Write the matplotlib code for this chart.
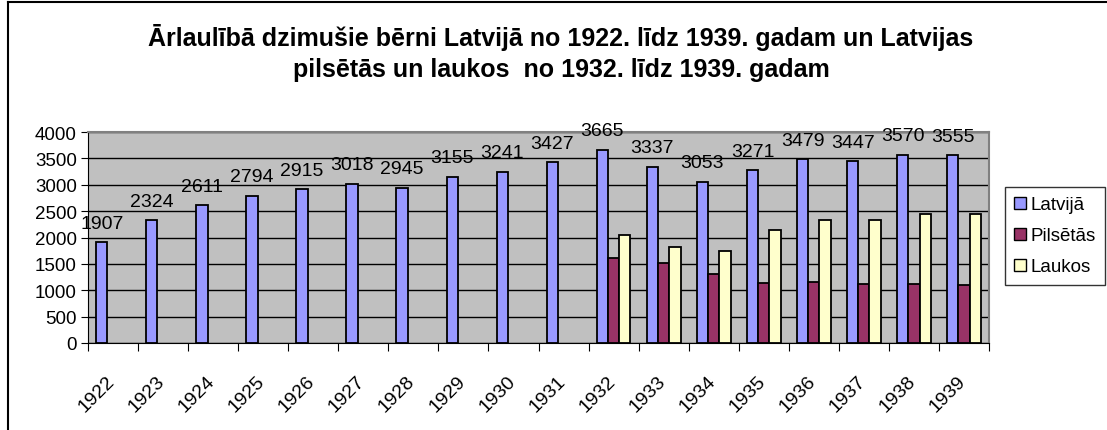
import matplotlib
matplotlib.use("Agg")
import matplotlib.pyplot as plt
from matplotlib.lines import Line2D
from matplotlib.patches import Patch
import numpy as np

plt.rcParams['font.family'] = ['Liberation Sans', 'DejaVu Sans']

years = ['1922', '1923', '1924', '1925', '1926', '1927', '1928', '1929', '1930',
         '1931', '1932', '1933', '1934', '1935', '1936', '1937', '1938', '1939']
latvija = [1907, 2324, 2611, 2794, 2915, 3018, 2945, 3155, 3241, 3427,
           3665, 3337, 3053, 3271, 3479, 3447, 3570, 3555]
pilsetas = [None] * 10 + [1610, 1515, 1315, 1130, 1150, 1110, 1127, 1105]
laukos = [None] * 10 + [2055, 1822, 1738, 2141, 2329, 2337, 2443, 2450]

series_names = ['Latvijā', 'Pilsētās', 'Laukos']
colors = ['#9999FF', '#993366', '#FFFFCC']
title = 'Ārlaulībā dzimušie bērni Latvijā no 1922. līdz 1939. gadam un Latvijas\npilsētās un laukos  no 1932. līdz 1939. gadam'

W, H = 1107, 431
fig = plt.figure(figsize=(W / 100, H / 100), dpi=100)
ax = fig.add_axes([88 / W, 1 - 344 / H, (989 - 88) / W, (344 - 133) / H])
ax.set_facecolor('#C0C0C0')

x = np.arange(len(years))
bw = 0.225
for k, (vals, c) in enumerate(zip([latvija, pilsetas, laukos], colors)):
    xs = [xi + (k - 1) * bw for xi, v in zip(x, vals) if v is not None]
    vs = [v for v in vals if v is not None]
    ax.bar(xs, vs, width=bw, color=c, edgecolor='black', linewidth=1.3, zorder=3)

for xi, v in zip(x, latvija):
    ax.annotate(str(v), (xi - bw, v), xytext=(0, 10.5), textcoords='offset points',
                ha='center', va='baseline', fontsize=14, zorder=4, annotation_clip=False)

ax.set_ylim(0, 4000)
ax.set_xlim(-0.5, len(years) - 0.5)
ax.set_yticks(np.arange(0, 4001, 500))
ax.yaxis.grid(True, color='black', linewidth=1)
ax.set_axisbelow(True)
ax.tick_params(axis='y', labelsize=13.5, length=5, direction='out', pad=3)
ax.set_xticks(np.arange(-0.5, len(years), 1.0))
ax.set_xticklabels([])
ax.tick_params(axis='x', length=6, direction='out')
for xi, lab in zip(x, years):
    ax.annotate(lab, (xi, 0), xytext=(-5, -21), textcoords='offset points',
                rotation=45, ha='right', va='top', fontsize=14,
                rotation_mode='anchor', annotation_clip=False)
for s in ['top', 'right']:
    ax.spines[s].set_color('#808080')
    ax.spines[s].set_linewidth(1.5)
ax.spines['left'].set_color('black')
ax.spines['bottom'].set_color('black')

fig.text(561 / W, 1 - 53 / H, title, ha='center', va='center', fontsize=18,
         fontweight='bold', linespacing=1.4)

handles = [Patch(facecolor=c, edgecolor='black', label=n) for c, n in zip(colors, series_names)]
leg = fig.legend(handles=handles, loc='upper left', bbox_to_anchor=(1005 / W, 1 - 188 / H),
                 fontsize=13.5, frameon=True, fancybox=False, edgecolor='black',
                 handlelength=0.6, handleheight=0.6, handletextpad=0.25,
                 borderpad=0.5, labelspacing=0.75, borderaxespad=0)
leg.get_frame().set_linewidth(1)

fig.add_artist(Line2D([8 / W, 8 / W], [0, 1 - 3 / H], color='black', linewidth=1.5,
                      transform=fig.transFigure))
fig.add_artist(Line2D([8 / W, 1], [1 - 3 / H, 1 - 3 / H], color='black', linewidth=1.5,
                      transform=fig.transFigure))

fig.savefig('out.png', dpi=100)
